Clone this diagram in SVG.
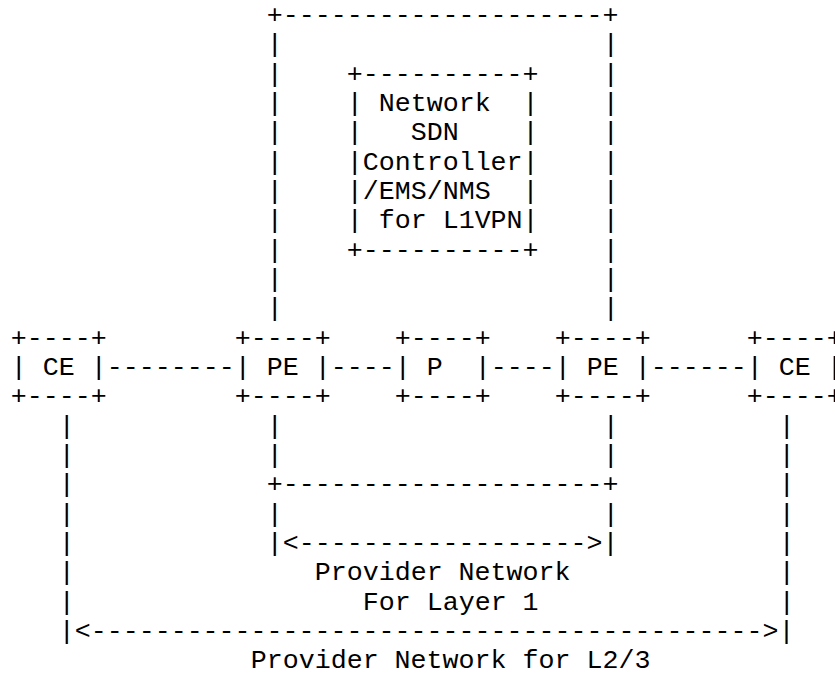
<svg xmlns="http://www.w3.org/2000/svg" width="835" height="673" viewBox="0 0 835 673" xml:space="preserve">
<style>
text { font-family: "Liberation Mono", "DejaVu Sans Mono", monospace; font-size: 26.667px; fill: #000; white-space: pre; }
</style>
<rect x="0" y="0" width="835" height="673" fill="#fff"/>
<g id="connectors">
  <text x="266.67" y="23">+--------------------+</text>
  <text x="266.67" y="52.33">|</text><text x="602.67" y="52.33">|</text>
  <text x="266.67" y="81.67">|</text><text x="602.67" y="81.67">|</text>
  <text x="266.67" y="111">|</text><text x="602.67" y="111">|</text>
  <text x="266.67" y="140.33">|</text><text x="602.67" y="140.33">|</text>
  <text x="266.67" y="169.67">|</text><text x="602.67" y="169.67">|</text>
  <text x="266.67" y="199">|</text><text x="602.67" y="199">|</text>
  <text x="266.67" y="228.33">|</text><text x="602.67" y="228.33">|</text>
  <text x="266.67" y="257.67">|</text><text x="602.67" y="257.67">|</text>
  <text x="266.67" y="287">|</text><text x="602.67" y="287">|</text>
  <text x="266.67" y="316.33">|</text><text x="602.67" y="316.33">|</text>
  <text x="106.67" y="375">--------</text>
  <text x="330.67" y="375">----</text>
  <text x="490.67" y="375">----</text>
  <text x="650.67" y="375">------</text>
  <text x="58.67" y="433.67">|</text><text x="266.67" y="433.67">|</text><text x="602.67" y="433.67">|</text><text x="778.67" y="433.67">|</text>
  <text x="58.67" y="463">|</text><text x="266.67" y="463">|</text><text x="602.67" y="463">|</text><text x="778.67" y="463">|</text>
  <text x="58.67" y="492.33">|</text><text x="266.67" y="492.33">+--------------------+</text><text x="778.67" y="492.33">|</text>
  <text x="58.67" y="521.67">|</text><text x="266.67" y="521.67">|</text><text x="602.67" y="521.67">|</text><text x="778.67" y="521.67">|</text>
  <text x="58.67" y="551">|</text><text x="266.67" y="551">|&lt;------------------&gt;|</text><text x="778.67" y="551">|</text>
  <text x="58.67" y="580.33">|</text><text x="778.67" y="580.33">|</text>
  <text x="58.67" y="609.67">|</text><text x="778.67" y="609.67">|</text>
  <text x="58.67" y="639">|&lt;------------------------------------------&gt;|</text>
</g>
<g id="labels">
  <text x="314.67" y="580.33">Provider Network</text>
  <text x="362.67" y="609.67">For Layer 1</text>
  <text x="250.67" y="668.33">Provider Network for L2/3</text>
</g>
<g id="controller">
  <text x="346.67" y="81.67">+----------+</text>
  <text x="346.67" y="111">| Network  |</text>
  <text x="346.67" y="140.33">|   SDN    |</text>
  <text x="346.67" y="169.67">|Controller|</text>
  <text x="346.67" y="199">|/EMS/NMS  |</text>
  <text x="346.67" y="228.33">| for L1VPN|</text>
  <text x="346.67" y="257.67">+----------+</text>
</g>
<g id="ce1">
  <text x="10.67" y="345.67">+----+</text>
  <text x="10.67" y="375">| CE |</text>
  <text x="10.67" y="404.33">+----+</text>
</g>
<g id="pe1">
  <text x="234.67" y="345.67">+----+</text>
  <text x="234.67" y="375">| PE |</text>
  <text x="234.67" y="404.33">+----+</text>
</g>
<g id="p">
  <text x="394.67" y="345.67">+----+</text>
  <text x="394.67" y="375">| P  |</text>
  <text x="394.67" y="404.33">+----+</text>
</g>
<g id="pe2">
  <text x="554.67" y="345.67">+----+</text>
  <text x="554.67" y="375">| PE |</text>
  <text x="554.67" y="404.33">+----+</text>
</g>
<g id="ce2">
  <text x="746.67" y="345.67">+----+</text>
  <text x="746.67" y="375">| CE |</text>
  <text x="746.67" y="404.33">+----+</text>
</g>
</svg>
